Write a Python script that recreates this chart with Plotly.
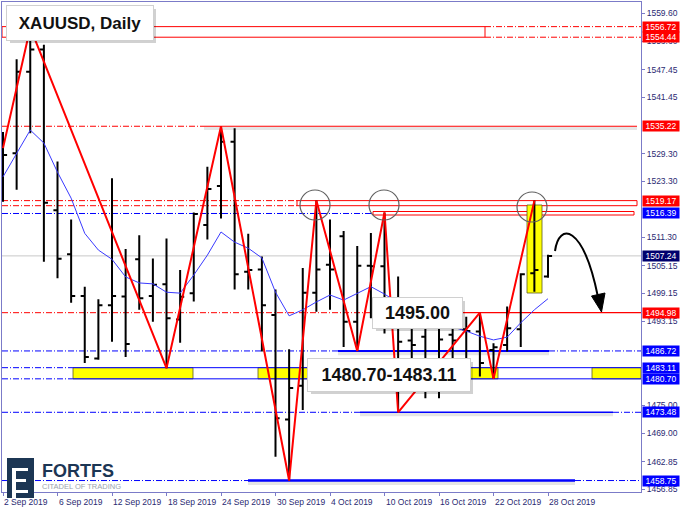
import plotly.graph_objects as go

# ---------------- data ----------------
dates = ["2 Sep 2019", "3 Sep 2019", "4 Sep 2019", "5 Sep 2019", "6 Sep 2019",
         "9 Sep 2019", "10 Sep 2019", "11 Sep 2019", "12 Sep 2019", "13 Sep 2019",
         "16 Sep 2019", "17 Sep 2019", "18 Sep 2019", "19 Sep 2019", "20 Sep 2019",
         "23 Sep 2019", "24 Sep 2019", "25 Sep 2019", "26 Sep 2019", "27 Sep 2019",
         "30 Sep 2019", "1 Oct 2019", "2 Oct 2019", "3 Oct 2019", "4 Oct 2019",
         "7 Oct 2019", "8 Oct 2019", "9 Oct 2019", "10 Oct 2019", "11 Oct 2019",
         "14 Oct 2019", "15 Oct 2019", "16 Oct 2019", "17 Oct 2019", "18 Oct 2019",
         "21 Oct 2019", "22 Oct 2019", "23 Oct 2019", "24 Oct 2019", "25 Oct 2019",
         "28 Oct 2019"]
opens = [1528.0, 1529.4, 1547.0, 1551.8, 1517.1, 1507.6, 1498.6, 1485.1, 1496.6, 1498.5,
         1506.5, 1498.6, 1501.1, 1493.5, 1499.2, 1513.9, 1522.3, 1531.9, 1503.8, 1504.3,
         1494.5, 1471.9, 1479.2, 1499.3, 1505.3, 1511.5, 1493.0, 1505.1, 1505.0, 1494.0,
         1489.0, 1489.8, 1482.0, 1490.2, 1491.4, 1490.9, 1486.9, 1488.0, 1491.4, 1503.5,
         1502.8]
highs = [1534.0, 1549.7, 1556.5, 1552.8, 1527.6, 1515.1, 1500.6, 1497.9, 1524.0, 1508.7,
         1511.7, 1506.7, 1511.0, 1504.2, 1516.6, 1526.5, 1535.22, 1534.8, 1512.0, 1507.1,
         1500.0, 1487.1, 1504.6, 1519.17, 1515.1, 1512.6, 1509.4, 1512.2, 1516.6, 1502.8,
         1495.5, 1493.5, 1493.0, 1493.0, 1494.1, 1494.98, 1488.4, 1496.3, 1503.5, 1519.17,
         1507.5]
lows = [1518.9, 1521.5, 1533.7, 1506.0, 1502.4, 1497.1, 1484.1, 1484.8, 1488.7, 1485.4,
        1495.6, 1493.0, 1483.0, 1488.5, 1497.4, 1510.8, 1515.3, 1500.0, 1500.0, 1486.6,
        1463.9, 1458.75, 1474.0, 1495.2, 1495.6, 1487.6, 1486.72, 1493.8, 1490.5, 1473.48,
        1478.3, 1476.5, 1476.5, 1483.0, 1484.8, 1481.2, 1480.70, 1486.6, 1487.6, 1499.5,
        1502.5]
closes = [1529.0, 1547.0, 1551.8, 1518.7, 1506.6, 1498.6, 1485.4, 1496.6, 1498.6, 1488.2,
          1498.1, 1501.0, 1493.8, 1498.4, 1516.3, 1521.7, 1531.9, 1503.3, 1504.2, 1496.6,
          1472.2, 1478.7, 1499.3, 1504.3, 1504.3, 1493.0, 1505.1, 1505.0, 1494.0, 1488.7,
          1488.0, 1482.0, 1489.2, 1489.0, 1491.0, 1484.1, 1487.5, 1491.6, 1503.3, 1504.2,
          1507.24]
ma_values = [1524.3, 1529.4, 1534.4, 1531.6, 1525.3, 1519.7, 1512.1, 1508.5, 1506.5, 1502.7,
             1501.4, 1501.2, 1499.4, 1499.2, 1503.1, 1507.4, 1512.4, 1510.2, 1508.9, 1506.8,
             1499.4, 1494.3, 1495.6, 1497.3, 1498.8, 1497.7, 1499.2, 1500.6, 1499.0, 1497.1,
             1495.6, 1493.8, 1492.8, 1491.9, 1491.0, 1489.9, 1489.1, 1489.7, 1492.8, 1495.6,
             1498.0]
zigzag_bars = [0, 2, 12, 16, 21, 23, 26, 28, 29, 35, 36, 39]
zigzag_prices = [1530.5, 1556.5, 1483.0, 1535.22, 1458.75, 1519.17, 1486.72, 1516.6,
                 1473.48, 1494.98, 1480.70, 1519.17]
price_ticks = [1559.60, 1553.60, 1547.45, 1541.45, 1529.30, 1523.30, 1511.30, 1505.15,
               1499.15, 1493.15, 1475.00, 1469.00, 1462.85, 1456.85]
date_tick_bars = [0, 4, 8, 12, 16, 20, 24, 28, 32, 36, 40]
level_values = [1556.72, 1554.44, 1535.22, 1519.17, 1516.39, 1507.24, 1494.98, 1486.72,
                1483.11, 1480.70, 1473.48, 1458.75]
level_label_colors = ["#ff0000", "#ff0000", "#ff0000", "#ff0000", "#0000ff", "#00006e",
                      "#ff0000", "#0000ff", "#0000ff", "#0000ff", "#0000ff", "#0000ff"]
zone_low, zone_high = 1480.70, 1483.11
title_text = "XAUUSD, Daily"
box_resistance_text = "1495.00"
box_support_text = "1480.70-1483.11"

# ---------------- geometry helpers (pixel -> axis units, for decorations) ----------------
BAR_PX, BAR0_PX = 13.625, 3.0
PRICE_PX, PRICE0, PRICE0_PX = 4.633, 1559.60, 13.3
PLOT_L, PLOT_R, PLOT_T, PLOT_B = 2, 641, 2, 492


def ix(px):
    return (px - BAR0_PX) / BAR_PX


def pr(py):
    return PRICE0 - (py - PRICE0_PX) / PRICE_PX


def paper_x(px):
    return (px - PLOT_L) / (PLOT_R - PLOT_L)


def paper_y(py):
    return (PLOT_B - py) / (PLOT_B - PLOT_T)


XL, XR = ix(PLOT_L), ix(PLOT_R)
bars = list(range(len(dates)))
RED, BLUE = "#ff0000", "#0000ff"
FONT = "Liberation Sans, Arial, sans-serif"
AXIS_COLOR = "#7b7bc8"
TEXT_COLOR = "#2a2a72"

fig = go.Figure()

fig.add_trace(go.Scatter(x=bars, y=ma_values, mode="lines",
                         line=dict(color="#3a3aff", width=1), hoverinfo="skip",
                         showlegend=False))
fig.add_trace(go.Ohlc(x=bars, open=opens, high=highs, low=lows, close=closes,
                      increasing=dict(line=dict(color="black", width=2)),
                      decreasing=dict(line=dict(color="black", width=2)),
                      tickwidth=0.3, hoverinfo="skip", showlegend=False))
fig.add_trace(go.Scatter(x=zigzag_bars, y=zigzag_prices, mode="lines",
                         line=dict(color=RED, width=2), hoverinfo="skip",
                         showlegend=False))

shapes = []


def hline(y, x0, x1, color, width=1, dash="solid", layer="below", shadow=False):
    if shadow:
        shapes.append(dict(type="line", xref="x", yref="y", x0=x0, x1=x1,
                           y0=y - 2.2 / PRICE_PX, y1=y - 2.2 / PRICE_PX,
                           line=dict(color="rgba(0,0,0,0.10)", width=width + 2),
                           layer=layer))
    shapes.append(dict(type="line", xref="x", yref="y", x0=x0, x1=x1, y0=y, y1=y,
                       line=dict(color=color, width=width, dash=dash), layer=layer))


def rect(x0, x1, y0, y1, line_color, fill="rgba(0,0,0,0)", width=1, layer="below"):
    shapes.append(dict(type="rect", xref="x", yref="y", x0=x0, x1=x1, y0=y0, y1=y1,
                       line=dict(color=line_color, width=width), fillcolor=fill,
                       layer=layer))


DD = "6px,2px,1px,2px"

# current price line
hline(level_values[5], XL, XR, "#c8c8c8", 1)

# top zone 1556.72 / 1554.44
rect(XL, ix(485), level_values[1], level_values[0], RED, "rgba(255,255,255,0)", 1)
hline(level_values[0], ix(485), XR, RED, 1, DD)
hline(level_values[1], ix(485), XR, RED, 1, DD)

# 1535.22
hline(level_values[2], XL, ix(204), RED, 1, DD)
hline(level_values[2], ix(204), ix(637), RED, 1.2, shadow=True)

# 1519.17 zone
r_low = pr(205.7)
hline(level_values[3], XL, ix(297), RED, 1, DD)
hline(r_low, XL, ix(297), RED, 1, DD)
rect(ix(297), ix(637), r_low, level_values[3], RED, "rgba(255,255,255,0)", 1)

# 1516.39
hline(level_values[4], XL, ix(373), BLUE, 1, DD)
rect(ix(373), ix(634), pr(215.0), pr(211.5), RED, "rgba(255,255,255,0)", 1)

# 1494.98
hline(level_values[6], XL, ix(378), RED, 1, DD)
hline(level_values[6], ix(378), XR, RED, 1.2)

# 1486.72
hline(level_values[7], XL, ix(338), BLUE, 1, DD)
hline(level_values[7], ix(338), ix(549), BLUE, 2, shadow=True)
hline(level_values[7], ix(549), XR, BLUE, 1, DD)

# yellow support zone 1480.70-1483.11
for x0px, x1px in [(73, 193), (258, 330), (460, 498), (592, PLOT_R)]:
    rect(ix(x0px), ix(x1px), zone_low, zone_high, "#5a5a20", "#ffff00", 0.8)
hline(zone_high, XL, ix(73), BLUE, 1, DD)
hline(zone_low, XL, ix(73), BLUE, 1, DD)
hline(zone_high, ix(73), XR, BLUE, 1)
hline(zone_low, ix(73), XR, BLUE, 1)

# 1473.48
hline(level_values[10], XL, ix(360), BLUE, 1, DD)
hline(level_values[10], ix(360), ix(613), BLUE, 1.5, shadow=True)
hline(level_values[10], ix(613), XR, BLUE, 1, DD)

# 1458.75
hline(level_values[11], XL, ix(248), BLUE, 1, DD)
hline(level_values[11], ix(248), ix(575), BLUE, 2.5, shadow=True)
hline(level_values[11], ix(575), XR, BLUE, 1, DD)

# highlighted bar (yellow vertical)
rect(ix(527), ix(542), pr(293), pr(205), "#5a5a20", "#ffff00", 0.8)

# circles around the tops
for cx, cy in [(315, 205), (384, 205), (532, 207)]:
    shapes.append(dict(type="circle", xref="x", yref="y", xsizemode="pixel",
                       ysizemode="pixel", xanchor=ix(cx), yanchor=pr(cy),
                       x0=-15, x1=15, y0=-15, y1=15,
                       line=dict(color="#606060", width=1.2), layer="above"))

# curved arrow
p = [(555, 251), (559, 222), (583, 224), (598, 297)]
path = "M {},{} C {},{} {},{} {},{}".format(*[v for pt in p for v in (ix(pt[0]), pr(pt[1]))])
shapes.append(dict(type="path", xref="x", yref="y", path=path,
                   line=dict(color="black", width=2), layer="above"))
head = [(601.5, 312), (591.5, 296), (605, 293)]
hpath = "M {},{} L {},{} L {},{} Z".format(*[v for pt in head for v in (ix(pt[0]), pr(pt[1]))])
shapes.append(dict(type="path", xref="x", yref="y", path=hpath,
                   line=dict(color="black", width=1), fillcolor="black", layer="above"))


# text boxes shadows
def shadow_box(x0, y0, x1, y1):
    shapes.append(dict(type="rect", xref="paper", yref="paper",
                       x0=paper_x(x0 + 3), x1=paper_x(x1 + 3),
                       y0=paper_y(y1 + 3), y1=paper_y(y0 + 3),
                       line=dict(width=0), fillcolor="rgba(0,0,0,0.18)", layer="above"))


shadow_box(7, 6, 153, 40)
shadow_box(373, 298, 462, 328)
shadow_box(308, 359, 470, 391)

# logo icon
NAVY = "#1c3654"


def prect(x0, y0, x1, y1, color):
    shapes.append(dict(type="rect", xref="paper", yref="paper",
                       x0=paper_x(x0), x1=paper_x(x1), y0=paper_y(y1), y1=paper_y(y0),
                       line=dict(width=0), fillcolor=color, layer="above"))


prect(7, 458, 34, 498, NAVY)
prect(12, 468, 16, 498, "white")
prect(16, 468, 28, 471, "white")
prect(16, 479, 26, 482, "white")
prect(16, 490, 28, 493, "white")

fig.update_layout(shapes=shapes)

annotations = []
# right-hand level labels
for val, col in zip(level_values, level_label_colors):
    annotations.append(dict(xref="paper", yref="y", x=1, y=val, xanchor="left",
                            yanchor="middle", xshift=1, text="{:.2f}".format(val),
                            showarrow=False, bgcolor=col, borderpad=1, width=34, height=8,
                            font=dict(family=FONT, size=8.5, color="white")))
# date labels
for b in date_tick_bars:
    annotations.append(dict(xref="x", yref="paper", x=b, y=0, xanchor="left",
                            yanchor="top", xshift=-1, yshift=-3, text=dates[b],
                            showarrow=False,
                            font=dict(family=FONT, size=8.5, color=TEXT_COLOR)))
# title box
annotations.append(dict(xref="paper", yref="paper", x=paper_x(80), y=paper_y(23),
                        xanchor="center", yanchor="middle", text="<b>" + title_text + "</b>",
                        showarrow=False, bgcolor="white", bordercolor="#d0d0d0",
                        borderwidth=1, width=144, height=32,
                        font=dict(family="Liberation Sans, Arial", size=17, color="#111")))
annotations.append(dict(xref="paper", yref="paper", x=paper_x(417.5), y=paper_y(313),
                        xanchor="center", yanchor="middle",
                        text="<b>" + box_resistance_text + "</b>",
                        showarrow=False, bgcolor="white", bordercolor="#d0d0d0",
                        borderwidth=1, width=87, height=28,
                        font=dict(family="Liberation Sans, Arial", size=18, color="#111")))
annotations.append(dict(xref="paper", yref="paper", x=paper_x(389), y=paper_y(375),
                        xanchor="center", yanchor="middle",
                        text="<b>" + box_support_text + "</b>",
                        showarrow=False, bgcolor="white", bordercolor="#d0d0d0",
                        borderwidth=1, width=160, height=30,
                        font=dict(family="Liberation Sans, Arial", size=18, color="#111")))
# logo text
annotations.append(dict(xref="paper", yref="paper", x=paper_x(40), y=paper_y(470.5),
                        xanchor="left", yanchor="middle", text="<b>FORTFS</b>",
                        showarrow=False,
                        font=dict(family="Liberation Sans, Arial", size=18, color=NAVY)))
annotations.append(dict(xref="paper", yref="paper", x=paper_x(40), y=paper_y(486),
                        xanchor="left", yanchor="middle", text="CITADEL OF TRADING",
                        showarrow=False,
                        font=dict(family=FONT, size=7.5, color="#9aa3ad")))

fig.update_layout(
    annotations=annotations,
    width=681, height=511,
    margin=dict(l=PLOT_L, r=681 - PLOT_R, t=PLOT_T, b=511 - PLOT_B, pad=0),
    paper_bgcolor="white", plot_bgcolor="white",
    showlegend=False,
    hovermode=False,
    xaxis=dict(range=[XL, XR], showgrid=False, zeroline=False, showline=True,
               mirror=True, linecolor=AXIS_COLOR, linewidth=1,
               tickvals=date_tick_bars, ticktext=[""] * len(date_tick_bars),
               ticks="outside", ticklen=3, tickcolor=AXIS_COLOR,
               rangeslider=dict(visible=False), fixedrange=True),
    yaxis=dict(range=[pr(PLOT_B), pr(PLOT_T)], side="right", showgrid=False,
               zeroline=False, showline=True, mirror=True, linecolor=AXIS_COLOR,
               linewidth=1, tickvals=price_ticks,
               ticktext=["{:.2f}".format(v) for v in price_ticks],
               ticks="outside", ticklen=3, tickcolor=AXIS_COLOR,
               tickfont=dict(family=FONT, size=8.5, color=TEXT_COLOR),
               fixedrange=True),
)

fig.write_html("out.html",
               config={"displayModeBar": False, "staticPlot": True},
               post_script="document.body.style.margin='0';")
